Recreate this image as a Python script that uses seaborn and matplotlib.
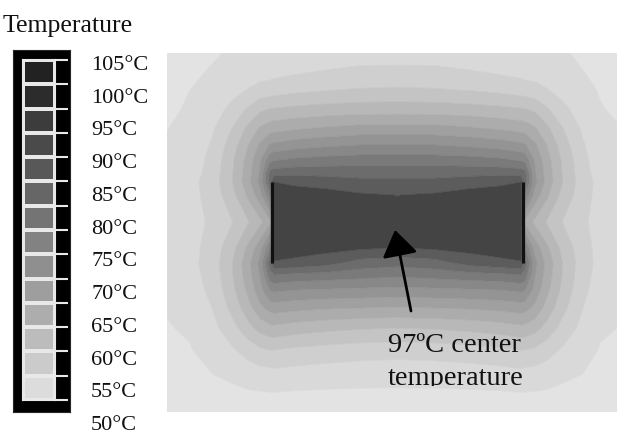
import numpy as np
import matplotlib
matplotlib.use("Agg")
import matplotlib.pyplot as plt
from matplotlib.colors import ListedColormap
from matplotlib.patches import Rectangle
import seaborn as sns

# simulated cross-section, positions in mm (y measured downward from top)
x_mm = [0, 2.3, 4.5, 6.5, 8.1, 9.3, 10.3, 10.7, 12.8, 15.8, 19.3, 23.0,
        26.8, 30.3, 33.3, 35.4, 35.8, 36.8, 38.0, 39.6, 41.6, 43.3, 45.0]
y_mm = [0, 1.7, 3.7, 5.7, 7.5, 9.2, 10.7, 11.9, 12.9, 14.2, 16.9,
        19.5, 21.0, 22.2, 23.7, 25.5, 27.5, 29.7, 32.2, 34.2, 35.9]

# temperature (°C), one row per y position
temps = [
    [49.8, 50.8, 51.6, 52.4, 52.8, 53.0, 53.2, 53.4, 53.6, 53.8, 54.0, 54.0, 54.0, 53.8, 53.6, 53.4, 53.2, 53.0, 52.8, 52.2, 51.6, 50.8, 50.0],
    [50.2, 51.4, 52.2, 53.4, 53.6, 54.0, 54.1, 54.5, 55.1, 56.0, 56.7, 56.8, 56.7, 56.0, 55.1, 54.5, 54.1, 54.0, 53.6, 53.2, 52.0, 51.2, 50.2],
    [50.8, 52.0, 53.0, 54.8, 56.2, 57.4, 57.9, 58.1, 59.0, 59.8, 60.3, 60.5, 60.3, 59.8, 59.0, 58.1, 57.9, 57.4, 56.2, 54.6, 52.8, 51.8, 51.0],
    [51.4, 52.4, 54.2, 57.1, 60.7, 63.4, 64.4, 64.6, 65.2, 65.8, 66.3, 66.4, 66.3, 65.8, 65.2, 64.6, 64.4, 63.4, 60.7, 57.1, 54.0, 52.2, 51.6],
    [51.9, 53.0, 55.4, 60.0, 64.8, 68.4, 70.0, 70.3, 71.3, 72.4, 73.2, 73.2, 73.2, 72.4, 71.3, 70.3, 70.0, 68.4, 64.8, 60.0, 55.2, 52.8, 52.2],
    [52.4, 53.4, 56.4, 61.9, 67.9, 72.7, 76.4, 76.9, 78.2, 79.2, 80.0, 80.0, 80.0, 79.2, 78.2, 76.9, 76.4, 72.7, 67.9, 61.9, 56.4, 53.4, 52.6],
    [52.6, 53.8, 57.1, 63.2, 69.5, 75.6, 82.8, 83.6, 84.8, 85.6, 86.0, 86.0, 86.0, 85.6, 84.8, 83.6, 82.8, 75.6, 69.5, 63.2, 57.1, 53.8, 53.0],
    [52.8, 54.2, 57.4, 63.6, 70.2, 76.4, 88.8, 89.7, 90.2, 90.2, 90.2, 90.2, 90.2, 90.2, 90.2, 89.7, 88.8, 76.4, 70.2, 63.6, 57.4, 54.2, 53.2],
    [52.8, 54.8, 57.8, 63.8, 70.6, 77.2, 90.0, 96.0, 95.3, 94.4, 93.1, 93.1, 93.1, 94.4, 95.3, 96.0, 90.0, 77.2, 70.6, 63.8, 57.8, 54.8, 53.4],
    [53.0, 54.6, 57.6, 62.6, 68.8, 74.4, 84.0, 98.4, 97.6, 97.5, 96.5, 95.95, 96.5, 97.5, 97.6, 98.4, 84.0, 74.4, 68.8, 62.6, 57.6, 54.6, 53.4],
    [52.8, 54.2, 56.8, 59.8, 63.6, 67.0, 71.0, 98.4, 98.0, 97.6, 97.3, 97.0, 97.3, 97.6, 98.0, 98.4, 71.0, 67.0, 63.6, 59.8, 56.8, 54.2, 53.2],
    [53.0, 54.6, 57.6, 62.6, 68.8, 74.4, 84.0, 98.4, 97.8, 97.4, 96.6, 95.9, 96.6, 97.4, 97.8, 98.4, 84.0, 74.4, 68.8, 62.6, 57.6, 54.6, 53.4],
    [52.8, 54.8, 57.8, 63.8, 70.6, 77.2, 90.0, 95.6, 95.0, 93.5, 90.4, 89.45, 90.4, 93.5, 95.0, 95.6, 90.0, 77.2, 70.6, 63.8, 57.8, 54.8, 53.4],
    [52.6, 54.6, 57.4, 63.6, 70.2, 76.3, 86.4, 88.0, 87.0, 86.5, 85.6, 84.8, 85.6, 86.5, 87.0, 88.0, 86.4, 76.3, 70.2, 63.6, 57.4, 54.6, 53.2],
    [52.4, 54.2, 56.9, 62.8, 69.0, 74.6, 80.2, 80.8, 80.0, 79.6, 79.2, 78.8, 79.2, 79.6, 80.0, 80.8, 80.2, 74.6, 69.0, 62.8, 56.9, 54.2, 53.0],
    [52.2, 53.7, 56.0, 61.1, 66.4, 71.0, 73.4, 73.8, 73.1, 72.4, 72.0, 71.6, 72.0, 72.4, 73.1, 73.8, 73.4, 71.0, 66.4, 61.1, 56.0, 53.7, 52.6],
    [51.8, 52.4, 54.8, 58.5, 62.6, 65.4, 66.8, 67.0, 66.0, 65.1, 64.4, 64.0, 64.4, 65.1, 66.0, 67.0, 66.8, 65.4, 62.6, 58.5, 54.8, 52.4, 52.0],
    [51.0, 51.8, 53.3, 55.4, 57.7, 59.3, 60.0, 60.0, 59.2, 58.5, 57.9, 57.6, 57.9, 58.5, 59.2, 60.0, 60.0, 59.3, 57.7, 55.4, 53.3, 51.8, 51.2],
    [50.2, 50.9, 51.9, 52.7, 53.6, 54.1, 54.3, 54.6, 54.2, 53.8, 53.5, 53.4, 53.5, 53.8, 54.2, 54.6, 54.3, 54.1, 53.6, 52.7, 51.9, 50.9, 50.4],
    [49.8, 50.2, 50.6, 51.0, 51.4, 51.5, 51.6, 51.6, 51.4, 51.3, 51.2, 51.2, 51.2, 51.3, 51.4, 51.6, 51.6, 51.5, 51.4, 51.0, 50.6, 50.2, 50.0],
    [49.4, 49.6, 49.8, 50.0, 50.2, 50.4, 50.4, 50.4, 50.4, 50.3, 50.2, 50.2, 50.2, 50.3, 50.4, 50.4, 50.4, 50.4, 50.2, 50.0, 49.8, 49.6, 49.4],
]

levels = [48, 52, 56, 60, 64, 68, 72, 76, 80, 84, 88, 92, 96, 100]
band_colors = ['#e3e3e3', '#d9d9d9', '#cfcfcf', '#c4c4c4', '#b8b8b8', '#acacac', '#a0a0a0',
               '#949494', '#888888', '#7a7a7a', '#6c6c6c', '#5c5c5c', '#444444']

# electrode plates
electrode_x = [10.5, 35.6]
electrode_top, electrode_bottom = 12.9, 21.0

# legend scale
legend_ticks = [105, 100, 95, 90, 85, 80, 75, 70, 65, 60, 55, 50]
legend_labels = ['105°C', '100°C', '95°C', '90°C', '85°C', '80°C', '75°C',
                 '70°C', '65°C', '60°C', '55°C', '50°C']
legend_boxes = [103.0, 99.1, 95.2, 91.3, 87.3, 83.4, 79.5, 75.5, 71.6, 67.7, 63.8, 59.8, 55.9, 52.0]
box_colors = ['#dcdcdc', '#cbcbcb', '#bcbcbc', '#adadad', '#9e9e9e', '#8f8f8f', '#828282',
              '#747474', '#666666', '#585858', '#4a4a4a', '#3c3c3c', '#2c2c2c', '#222222']

sns.set_style("white")
plt.rcParams['font.family'] = ['Liberation Serif', 'DejaVu Serif']

W, H = 624, 434
fig = plt.figure(figsize=(W / 100, H / 100), dpi=100)

# main temperature map
ax = fig.add_axes([167 / W, (H - 412) / H, 450 / W, 359 / H])
ax.contourf(x_mm, y_mm, temps, levels=levels, colors=band_colors, antialiased=True)
ax.contour(x_mm, y_mm, temps, levels=levels[1:-1], colors=band_colors[1:], linewidths=0.5)
ax.set_xlim(0, 45)
ax.set_ylim(35.9, 0)
ax.axis('off')
ax.vlines(electrode_x, electrode_top, electrode_bottom, color='#111111', lw=2.3)

ax.annotate('', xy=(22.8, 17.7), xytext=(24.4, 25.8),
            arrowprops=dict(arrowstyle='-|>,head_length=0.8,head_width=0.55',
                            color='black', lw=2, mutation_scale=20,
                            shrinkA=0, shrinkB=0))
ax.text(22.1, 29.9, '97ºC center', fontsize=20.5, va='baseline', color='#111111')
t2 = ax.text(22.1, 33.2, 'temperature', fontsize=20.5, va='baseline', color='#111111',
             clip_on=True)
t2.set_clip_path(Rectangle((0, 0), 45, 33.25, transform=ax.transData))

# legend: black frame, shaded boxes, tick marks, labels
fax = fig.add_axes([13 / W, (H - 412) / H, 57 / W, 362 / H])
fax.set_facecolor('black')
fax.set_xticks([])
fax.set_yticks([])

cax = fig.add_axes([23 / W, (H - 400) / H, 32 / W, 340 / H])
sns.heatmap(np.array(legend_boxes).reshape(-1, 1), ax=cax, cmap=ListedColormap(box_colors),
            vmin=50, vmax=105, cbar=False, linewidths=1.5, linecolor='#e8e8e8',
            xticklabels=False, yticklabels=False)
for s in cax.spines.values():
    s.set_visible(True)
    s.set_color('#e8e8e8')
    s.set_linewidth(1.5)
cax.yaxis.tick_right()
cax.set_yticks(range(len(legend_boxes) + 1))
cax.tick_params(axis='y', right=True, length=9.5, width=1.5, color='#e8e8e8',
                labelright=False, direction='out')

lax = fig.add_axes([91 / W, (H - 423) / H, 0.0001, 360 / H])
lax.set_ylim(50, 105)
lax.set_yticks(legend_ticks)
lax.set_yticklabels(legend_labels)
lax.yaxis.tick_right()
lax.tick_params(axis='y', length=0, pad=0, labelsize=16, labelcolor='#111111')
lax.set_xticks([])
lax.set_facecolor('none')
for s in lax.spines.values():
    s.set_visible(False)

fig.text(3 / W, (H - 32) / H, 'Temperature', fontsize=18.5, va='baseline', color='#111111')

fig.savefig('out.png', dpi=100)
